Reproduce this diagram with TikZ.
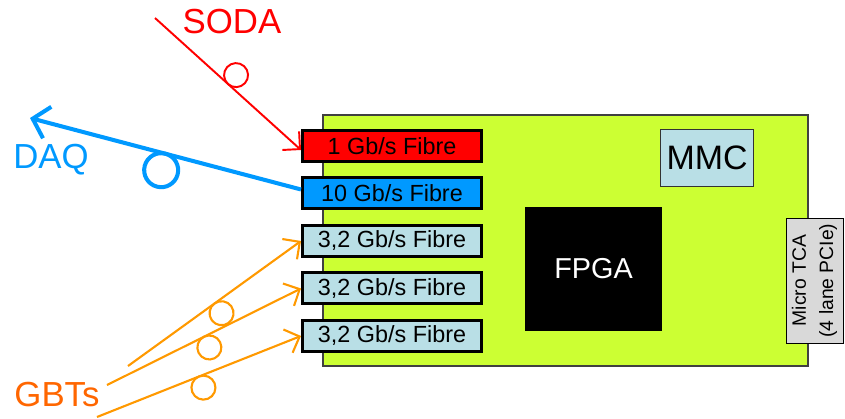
\documentclass[tikz,border=0pt]{standalone}
\usepackage{fontspec}
\setmainfont{Liberation Sans}
\usetikzlibrary{positioning,arrows.meta}
\definecolor{cardgreen}{RGB}{204,255,51}
\definecolor{sodared}{RGB}{255,0,0}
\definecolor{daqblue}{RGB}{0,153,255}
\definecolor{gbtorange}{RGB}{255,153,0}
\definecolor{gbttext}{RGB}{255,102,0}
\definecolor{fibrecyan}{RGB}{185,223,230}
\definecolor{tcagray}{RGB}{217,217,217}

\begin{document}
\begin{tikzpicture}[
    fibre/.style={draw=black, line width=1.7pt, minimum width=3.58cm, minimum height=0.62cm,
        inner sep=0pt, font=\fontsize{13.3}{15}\selectfont},
    fibreloop/.style={draw, circle, inner sep=0pt, outer sep=0pt, minimum size=#1},
    fibreloop/.default=0.48cm,
    biglabel/.style={font=\fontsize{19.8}{22}\selectfont},
    barb/.style={-{Straight Barb[length=2.5mm,width=5mm]}},
    node distance=0.27cm
]
    \useasboundingbox (0,0) rectangle (16.9,8.36);
    % Card
    \node[draw=black!75, line width=0.8pt, fill=cardgreen, minimum width=9.7cm,
        minimum height=5.02cm] (card) at (11.31,3.55) {};
    % Fibre ports
    \node[fibre, fill=sodared] (f1) at (7.84,5.44) {1 Gb/s Fibre};
    \node[fibre, fill=daqblue, below=of f1] (f2) {10 Gb/s Fibre};
    \node[fibre, fill=fibrecyan, below=of f2] (f3) {3,2 Gb/s Fibre};
    \node[fibre, fill=fibrecyan, below=of f3] (f4) {3,2 Gb/s Fibre};
    \node[fibre, fill=fibrecyan, below=of f4] (f5) {3,2 Gb/s Fibre};
    % Chips
    \node[fill=black, text=white, minimum width=2.74cm, minimum height=2.48cm,
        font=\fontsize{16.4}{18}\selectfont] (fpga) at (11.87,2.98) {FPGA};
    \node[draw=black!80, fill=fibrecyan, minimum width=1.8cm, minimum height=1.14cm,
        font=\fontsize{19.3}{21}\selectfont] (mmc) at (14.14,5.21) {MMC};
    % Backplane connector
    \node[draw=black, fill=tcagray, rotate=90, minimum width=2.5cm, minimum height=1.14cm,
        inner sep=1pt, align=center, font=\fontsize{11}{15.5}\selectfont] (tca) at (16.29,2.75)
        {Micro TCA\\(4 lane PCIe)};
    % Labels
    \node[biglabel, text=sodared] (soda) at (4.64,7.92) {SODA};
    \node[biglabel, text=daqblue] (daq) at (1.02,5.16) {DAQ};
    \node[biglabel, text=gbttext] (gbts) at (1.14,0.46) {GBTs};
    % Links
    \coordinate (sodain) at (3.1,8.0);
    \coordinate (daqout) at (0.6,6.0);
    \coordinate (gbtin1) at (2.56,1.04);
    \coordinate (gbtin2) at (2.14,0.66);
    \coordinate (gbtin3) at (1.94,0.02);
    \draw[sodared, line width=1.1pt, barb] (sodain)
        -- node[fibreloop, pos=0.5, sloped, anchor=south] {} ([yshift=-0.08cm]f1.west);
    \draw[daqblue, line width=2.3pt, -{Straight Barb[length=3mm,width=6.5mm]}] ([yshift=0.08cm]f2.west)
        -- node[fibreloop=0.68cm, pos=0.5, sloped, anchor=north] {} (daqout);
    \foreach \src/\dst in {gbtin1/f3, gbtin2/f4, gbtin3/f5}
        \draw[gbtorange, line width=1.2pt, barb] (\src)
            -- node[fibreloop, pos=0.5, sloped, anchor=north] {} (\dst.west);
\end{tikzpicture}
\end{document}
